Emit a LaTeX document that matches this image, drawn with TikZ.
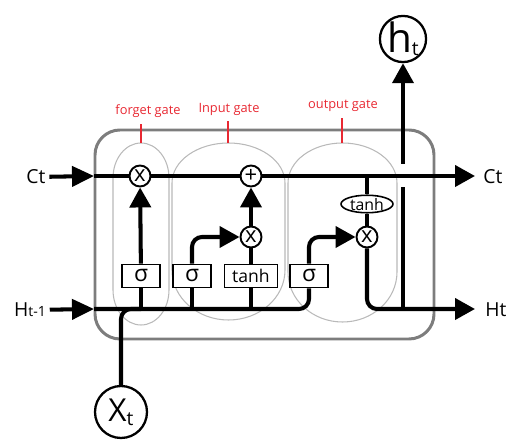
\documentclass[tikz,border=0pt]{standalone}
\usepackage{fontspec}
\setmainfont{Open Sans}
\usepackage{tikz}
\usetikzlibrary{shapes.geometric, arrows.meta, positioning, calc}
\definecolor{gatered}{RGB}{232, 40, 50}
\definecolor{boxgray}{RGB}{125, 125, 125}
\definecolor{gategray}{RGB}{185, 185, 185}

\begin{document}
\begin{tikzpicture}[x=0.02cm, y=-0.02cm,
    ln/.style={line width=2.3pt},
    arr/.style={line width=2.3pt, -{Triangle[length=0.4cm, width=0.42cm]}},
    inarr/.style={line width=2.3pt, -{Triangle[length=0.44cm, width=0.4cm]}},
    op/.style={circle, draw, line width=1.1pt, fill=white, minimum size=0.42cm,
               inner sep=0pt, font=\fontsize{12.5}{12}\selectfont},
    act/.style={rectangle, draw, line width=0.9pt, fill=white, minimum height=0.46cm,
                minimum width=0.76cm, inner sep=1pt, font=\fontsize{13}{13}\selectfont},
    gate/.style={draw=gategray, line width=0.6pt},
    glabel/.style={text=gatered, font=\fontsize{7.3}{8}\selectfont},
    lead/.style={draw=gatered, line width=0.6pt},
    io/.style={font=\fontsize{11}{13}\selectfont, inner sep=2pt}
]
    \useasboundingbox (0,0) rectangle (508,442);

    % cell
    \draw[draw=boxgray, line width=1.7pt, rounded corners=0.5cm] (95,130) rectangle (434,339);

    % gates
    \draw[gate] (113,290) -- (113,178) arc[start angle=180, end angle=360, x radius=28, y radius=35]
        -- (169,290) arc[start angle=0, end angle=180, x radius=28, y radius=35] -- cycle;
    \draw[gate] (172,270) -- (172,183) arc[start angle=180, end angle=360, x radius=56.5, y radius=40]
        -- (285,270) arc[start angle=0, end angle=180, x radius=56.5, y radius=50] -- cycle;
    \draw[gate] (288,272) -- (288,183) arc[start angle=180, end angle=360, x radius=54.5, y radius=40]
        -- (397,272) arc[start angle=0, end angle=180, x radius=54.5, y radius=50] -- cycle;

    \coordinate (ftop) at (141,143);
    \coordinate (itop) at (228,143);
    \coordinate (otop) at (342,143);
    \node[glabel] (flab) at (148,111) {forget gate};
    \node[glabel] (ilab) at (229,109) {Input gate};
    \node[glabel] (olab) at (343,106) {output gate};
    \draw[lead] (ftop) -- (ftop |- flab.south);
    \draw[lead] (itop) -- (itop |- ilab.south);
    \draw[lead] (otop) -- (otop |- olab.south);

    % operations
    \node[op] (fx) at (140,176) {x};
    \node[op] (ip) at (251,176) {+};
    \node[op] (ix) at (251,237) {x};
    \node[op] (ox) at (367,237) {x};
    \node[ellipse, draw, line width=0.9pt, fill=white, minimum width=1.04cm, minimum height=0.35cm,
          inner sep=0pt, label={[inner sep=0pt, yshift=-0.6pt, font=\fontsize{9}{9}\selectfont]center:tanh}]
          (otanh) at (367,204) {};

    \node[act] (fsig) at (141,276) {σ};
    \node[act] (isig) at (192,276) {σ};
    \node[act, minimum width=1.06cm, font=\fontsize{10}{10}\selectfont] (itanh) at (251,276) {tanh};
    \node[act] (osig) at (309,276) {σ};

    % inputs and outputs
    \node[io] (ctlab) at (36,177) {Ct};
    \node[io] (hlab) at (30,310) {H{\fontsize{8}{9}\selectfont t-1}};
    \node[io] (ctrlab) at (493,177) {Ct};
    \node[io] (hrlab) at (496,310) {Ht};
    \node[circle, draw, line width=1.3pt, minimum size=0.92cm, inner sep=0pt] (ht) at (403,39)
        {{\fontsize{23}{23}\selectfont h}\raisebox{-0.3ex}{\fontsize{11}{11}\selectfont t}};
    \node[circle, draw, line width=1.3pt, minimum size=1.04cm, inner sep=0pt] (xt) at (121,412)
        {{\fontsize{18}{18}\selectfont X}\raisebox{-0.4ex}{\fontsize{11}{11}\selectfont t}};

    \coordinate (ctl) at (94,176);
    \coordinate (ctr) at (475,176);
    \coordinate (hl) at (94,309);
    \coordinate (hr) at (475,309);
    \coordinate (cto) at (367,176);
    \coordinate (hj) at (403,309);
    \coordinate (gapb) at (403,187);
    \coordinate (gapt) at (403,164);

    % cell state
    \draw[inarr] (ctlab) -- (ctl);
    \draw[arr] (ctl) -- (fx) -- (ip) -- (ctr);

    % hidden state and input
    \draw[inarr] (hlab) -- (hl);
    \draw[ln, rounded corners=0.2cm] (hl) -| (osig);
    \draw[ln, rounded corners=0.2cm] (xt) |- (fsig |- hl);

    % forget gate
    \draw[ln] (fsig |- hl) -- (fsig);
    \draw[arr] (fsig) -- (fx);

    % input gate
    \draw[ln] (isig |- hl) -- (isig);
    \draw[arr, rounded corners=0.2cm] (isig) |- (ix);
    \draw[ln] (itanh |- hl) -- (itanh);
    \draw[ln] (itanh) -- (ix);
    \draw[arr] (ix) -- (ip);

    % output gate
    \draw[arr, rounded corners=0.2cm] (osig) |- (ox);
    \draw[ln] (cto) -- (otanh);
    \draw[ln] (otanh) -- (ox);
    \draw[arr, rounded corners=0.2cm] (ox) |- (hr);
    \draw[ln] (hj) -- (gapb);
    \draw[arr] (gapt) -- (ht);
\end{tikzpicture}
\end{document}
